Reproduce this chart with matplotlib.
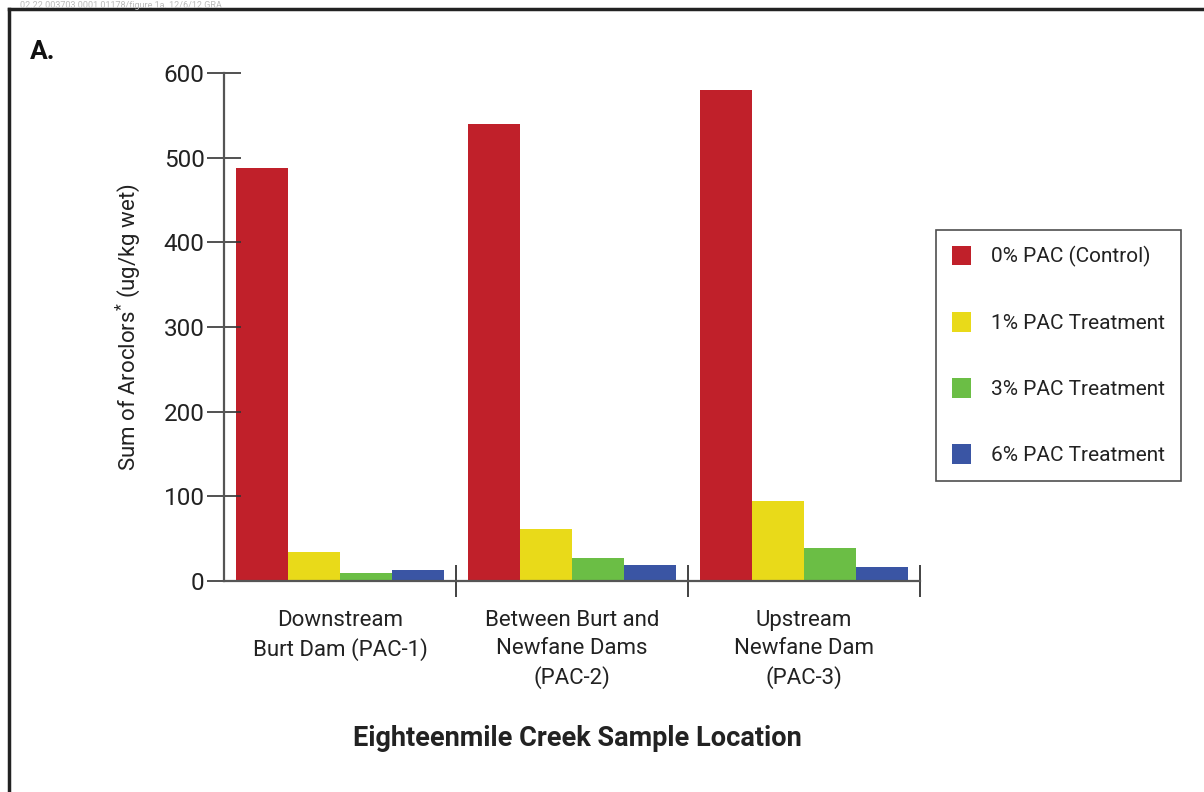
import numpy as np
import matplotlib
matplotlib.use('Agg')
from matplotlib import pyplot as plt
from matplotlib.lines import Line2D

plt.rcParams['font.family'] = ['Roboto', 'DejaVu Sans']
plt.rcParams['mathtext.default'] = 'regular'

## data
locations = ['Downstream\nBurt Dam (PAC-1)',
             'Between Burt and\nNewfane Dams\n(PAC-2)',
             'Upstream\nNewfane Dam\n(PAC-3)']
treatments = ['0% PAC (Control)', '1% PAC Treatment',
              '3% PAC Treatment', '6% PAC Treatment']
pac_0 = [488, 540, 580]
pac_1 = [34, 61, 94]
pac_3 = [10, 27, 39]
pac_6 = [13, 19, 17]
yticks = [0, 100, 200, 300, 400, 500, 600]

colors = ['#C0202A', '#E9DA19', '#6BBE45', '#3A55A4']
series = [pac_0, pac_1, pac_3, pac_6]

W, H = 1204, 792
fig = plt.figure(figsize=(W/100., H/100.), dpi=100)
ax = fig.add_axes([224./W, 1-581./H, (920.-224.)/W, (581.-73.)/H])

centers = np.arange(len(locations)) + 0.5
bw = 0.225
for i, vals in enumerate(series):
    ax.bar(centers + (i-1.5)*bw, vals, width=bw, color=colors[i],
           label=treatments[i], linewidth=0)

ax.set_xlim(0, 3)
ax.set_ylim(0, 600)
ax.set_yticks(yticks)
ax.set_xticks([1, 2, 3])
ax.set_xticklabels([])
for s in ['top', 'right']:
    ax.spines[s].set_visible(False)
for s in ['left', 'bottom']:
    ax.spines[s].set_color('#555555')
    ax.spines[s].set_linewidth(1.6)
ax.tick_params(axis='y', direction='inout', length=24, width=1.2,
               color='#333333', labelsize=17.5, pad=2, labelcolor='#222222')
ax.tick_params(axis='x', direction='inout', length=23, width=1.2,
               color='#222222')

for c, lab in zip(centers, locations):
    ax.text(c, -34, lab, ha='center', va='top', fontsize=16,
            color='#222222', linespacing=1.42)

ax.set_ylabel('Sum of Aroclors$^{*}$ (ug/kg wet)', fontsize=16, color='#222222')
ax.yaxis.label.set_verticalalignment('center')
ax.yaxis.set_label_coords((128.-224.)/(920.-224.), 0.5)

fig.text(577./W, 1-738./H, 'Eighteenmile Creek Sample Location', ha='center',
         va='center', fontsize=19.5, fontweight='bold', color='#222222')
fig.text(30./W, 1-52./H, 'A.', ha='left', va='center', fontsize=19,
         fontweight='bold', color='#111111')
fig.text(20./W, 1-0.5/H, '02.22 003703 0001 01178/figure 1a. 12/6/12 GRA',
         ha='left', va='top', fontsize=6.5, color='#bbbbbb')

leg = fig.legend(loc='upper left', bbox_to_anchor=(936./W, 1-230./H),
                 frameon=True, fancybox=False, fontsize=15, borderpad=0.75,
                 labelspacing=2.17, handlelength=0.95, handleheight=1.05,
                 handletextpad=0.95, borderaxespad=0)
leg.get_frame().set_edgecolor('#222222')
leg.get_frame().set_linewidth(1.2)
for t in leg.get_texts():
    t.set_color('#222222')

# outer frame of the panel
fig.add_artist(Line2D([9./W, 9./W], [0, 1-9./H], transform=fig.transFigure,
                      color='#222222', linewidth=2.5))
fig.add_artist(Line2D([9./W, 1], [1-9./H, 1-9./H], transform=fig.transFigure,
                      color='#222222', linewidth=2.5))

fig.savefig('out.png', dpi=100)
